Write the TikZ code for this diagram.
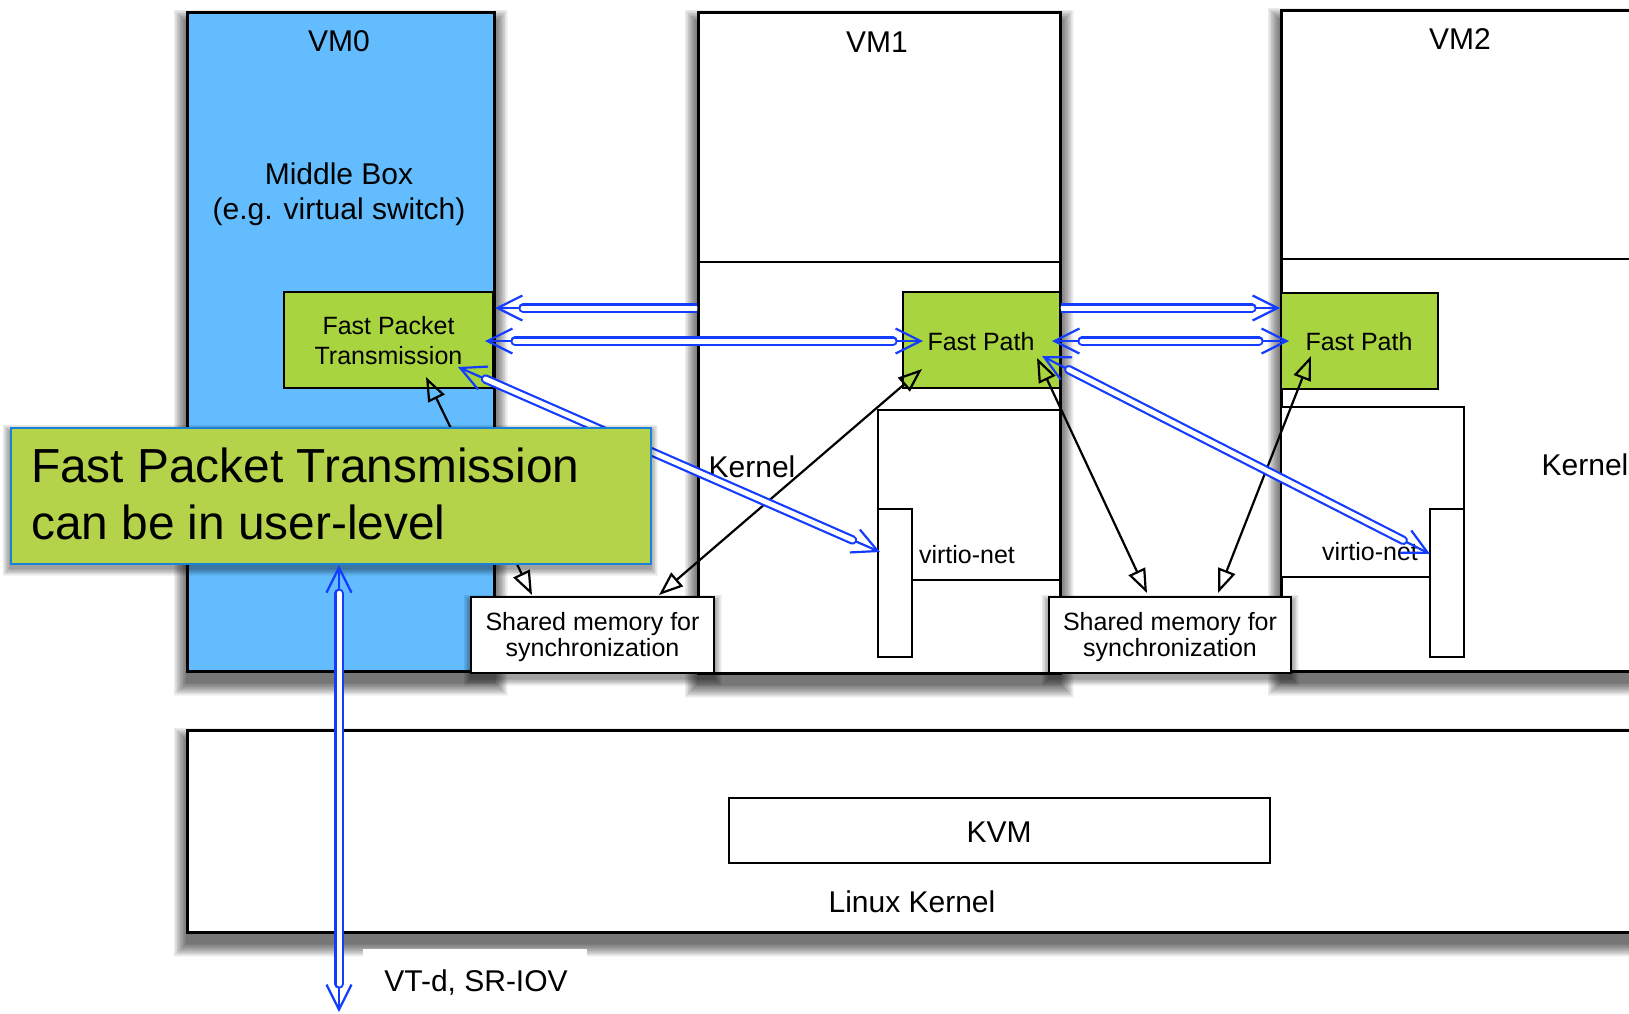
\documentclass[tikz,border=0pt]{standalone}
\usepackage{fontspec}
\setmainfont{Liberation Sans}
\usetikzlibrary{arrows.meta}
\definecolor{vmblue}{RGB}{98,188,254}
\definecolor{fpgreen}{RGB}{168,212,64}
\definecolor{calgreen}{RGB}{180,211,74}
\definecolor{calborder}{RGB}{25,130,215}
\definecolor{arrowblue}{RGB}{20,60,255}
% soft shadow: x1 y1 x2 y2 (top-left / bottom-right in px, y down)
\newcommand\mkshadow[4]{\foreach \e in {0.75,1.5,...,13.5}{\fill[black,opacity=0.04] ({#1-\e},{#2+11-\e}) rectangle ({#3+\e},{#4+11+\e});}}
\newcommand\mkshadowsm[4]{\foreach \e in {0.75,1.5,...,7.5}{\fill[black,opacity=0.045] ({#1-\e},{#2+5-\e}) rectangle ({#3+\e},{#4+5+\e});}}
\begin{document}
\begin{tikzpicture}[x=1pt,y=-1pt,
  box/.style={draw=black, line width=2.6pt, fill=white, anchor=north west, inner sep=0pt, outer sep=0pt},
  vmbox/.style={box, line width=3pt},
  lbl/.style={font=\fontsize{30}{36}\selectfont, inner sep=0pt, anchor=base},
  sml/.style={font=\fontsize{25}{29}\selectfont, inner sep=0pt, anchor=base},
  sync/.style={draw=black, line width=2.2pt,
    {Triangle[open, length=24pt, width=18pt, line width=2.2pt]}-{Triangle[open, length=24pt, width=18pt, line width=2.2pt]}},
  bhead2/.style={draw=arrowblue, line width=2.2pt,
    {Straight Barb[length=25pt, width=25pt, line width=2.2pt]}-{Straight Barb[length=25pt, width=25pt, line width=2.2pt]}},
  bhead1/.style={draw=arrowblue, line width=2.2pt,
    -{Straight Barb[length=25pt, width=25pt, line width=2.2pt]}},
  bdbl/.style={draw=arrowblue, line width=2.2pt, double=white, double distance=5pt, line cap=round},
]
\useasboundingbox (0,0) rectangle (1629,1013);
\fill[white] (0,0) rectangle (1629,1013);

% Linux kernel
\mkshadow{187}{730}{1657}{932}
\node[vmbox, minimum width=1470pt, minimum height=202pt] (linux) at (187,730) {};
\node[box, minimum width=541pt, minimum height=65pt] (kvm) at (729,798) {};
\node[lbl] (kvmt) at (999,842) {KVM};
\node[lbl] (linuxt) at (912,912) {Linux Kernel};
\node[fill=white, anchor=north west, minimum width=224pt, minimum height=64pt, inner sep=0pt] (vtdbox) at (363,949) {};
\node[lbl] (vtd) at (476,991) {VT-d, SR-IOV};

% VMs
\mkshadow{187}{12}{494}{671}
\mkshadow{698}{12}{1060}{673}
\mkshadow{1281}{10}{1651}{671}
\node[vmbox, fill=vmblue, minimum width=307pt, minimum height=659pt] (vm0) at (187,12) {};
\node[vmbox, minimum width=362pt, minimum height=661pt] (vm1) at (698,12) {};
\node[vmbox, minimum width=370pt, minimum height=661pt] (vm2) at (1281,10) {};
\coordinate (vm1divl) at (698,262);
\coordinate (vm1divr) at (1060,262);
\coordinate (vm2divl) at (1281,259);
\coordinate (vm2divr) at (1660,259);
\draw[line width=2.6pt] (vm1divl) -- (vm1divr);
\draw[line width=2.6pt] (vm2divl) -- (vm2divr);

\node[lbl] (vm0t) at (339,51) {VM0};
\node[lbl] (vm1t) at (877,52) {VM1};
\node[lbl] (vm2t) at (1460,49) {VM2};
\node[lbl] (mb1) at (339,184) {Middle Box};
\node[lbl] (mb2) at (339,219.5) {(e.g. virtual switch)};

% inner boxes
\node[box, minimum width=182pt, minimum height=170pt] (in1) at (878,410) {};
\node[box, minimum width=34pt, minimum height=148pt] (vn1) at (878,509) {};
\node[box, minimum width=183pt, minimum height=170pt] (in2) at (1281,407) {};
\node[box, minimum width=34pt, minimum height=148pt] (vn2) at (1430,509) {};

% green boxes
\node[box, fill=fpgreen, minimum width=209pt, minimum height=96pt] (fpt) at (284,292) {};
\node[box, fill=fpgreen, minimum width=157pt, minimum height=96pt] (fp1) at (903,292) {};
\node[box, fill=fpgreen, minimum width=157pt, minimum height=96pt] (fp2) at (1281,293) {};
\node[sml] (fptt1) at (388.5,334) {Fast Packet};
\node[sml] (fptt2) at (388.5,364) {Transmission};
\node[sml] (fp1t) at (981,350) {Fast Path};
\node[sml] (fp2t) at (1359,350) {Fast Path};

\node[lbl] (k1) at (752,477) {Kernel};
\node[lbl] (k2) at (1585,475) {Kernel};
\node[sml] (vnt1) at (967,563) {virtio-net};
\node[sml] (vnt2) at (1370,560) {virtio-net};

% shared memory
\mkshadowsm{471}{597}{714}{673}
\mkshadowsm{1049}{597}{1291}{673}
\node[box, minimum width=243pt, minimum height=76pt] (sm1) at (471,597) {};
\node[box, minimum width=242pt, minimum height=76pt] (sm2) at (1049,597) {};
\node[sml] (sm1a) at (592.5,630) {Shared memory for};
\node[sml] (sm1b) at (592.5,656) {synchronization};
\node[sml] (sm2a) at (1170,630) {Shared memory for};
\node[sml] (sm2b) at (1170,656) {synchronization};

% black sync arrows
\coordinate (a1) at (426,377); \coordinate (a2) at (532,595);
\coordinate (b1) at (659,595); \coordinate (b2) at (922,369);
\coordinate (c1) at (1037,358); \coordinate (c2) at (1147,593);
\coordinate (d1) at (1311,356); \coordinate (d2) at (1218,593);
\draw[sync] (a1) -- (a2);
\draw[sync] (b1) -- (b2);
\draw[sync] (c1) -- (c2);
\draw[sync] (d1) -- (d2);

% blue arrows
\coordinate (e1s) at (698,308); \coordinate (e1t) at (495,308);
\draw[bhead1] (e1s) -- (e1t);
\begin{scope}
\clip (0,0) rectangle (697,1013);
\draw[bdbl, shorten >=28pt] (710,308) -- (e1t);
\end{scope}

\coordinate (e2a) at (485,341); \coordinate (e2b) at (923,341);
\draw[bhead2] (e2a) -- (e2b);
\draw[bdbl, shorten <=30pt, shorten >=30pt] (e2a) -- (e2b);

\coordinate (e3a) at (458,367); \coordinate (e3b) at (880,552);
\draw[bhead2] (e3a) -- (e3b);
\draw[bdbl, shorten <=30pt, shorten >=30pt] (e3a) -- (e3b);

\coordinate (e4s) at (1060,308); \coordinate (e4t) at (1280,308);
\draw[bhead1] (e4s) -- (e4t);
\begin{scope}
\clip (1061,0) rectangle (1629,1013);
\draw[bdbl, shorten >=28pt] (1048,308) -- (e4t);
\end{scope}

\coordinate (e5a) at (1052,341); \coordinate (e5b) at (1289,341);
\draw[bhead2] (e5a) -- (e5b);
\draw[bdbl, shorten <=30pt, shorten >=30pt] (e5a) -- (e5b);

\coordinate (e6a) at (1042,356); \coordinate (e6b) at (1430,554);
\draw[bhead2] (e6a) -- (e6b);
\draw[bdbl, shorten <=30pt, shorten >=30pt] (e6a) -- (e6b);

% callout
\mkshadowsm{10}{427}{650}{563}
\node[draw=calborder, line width=2.2pt, fill=calgreen, anchor=north west, inner sep=0pt,
      minimum width=640pt, minimum height=136pt] (callout) at (10,427) {};
\node[anchor=west, align=left, inner sep=0pt, font=\fontsize{47.8}{57}\selectfont] (callt) at (31,494)
  {Fast Packet Transmission\\can be in user-level};

% vertical arrow
\coordinate (e7b) at (339,1012);
\draw[bhead2] (callout.south -| e7b) -- (e7b);
\draw[bdbl, shorten <=28pt, shorten >=28pt] (callout.south -| e7b) -- (e7b);
\end{tikzpicture}
\end{document}
